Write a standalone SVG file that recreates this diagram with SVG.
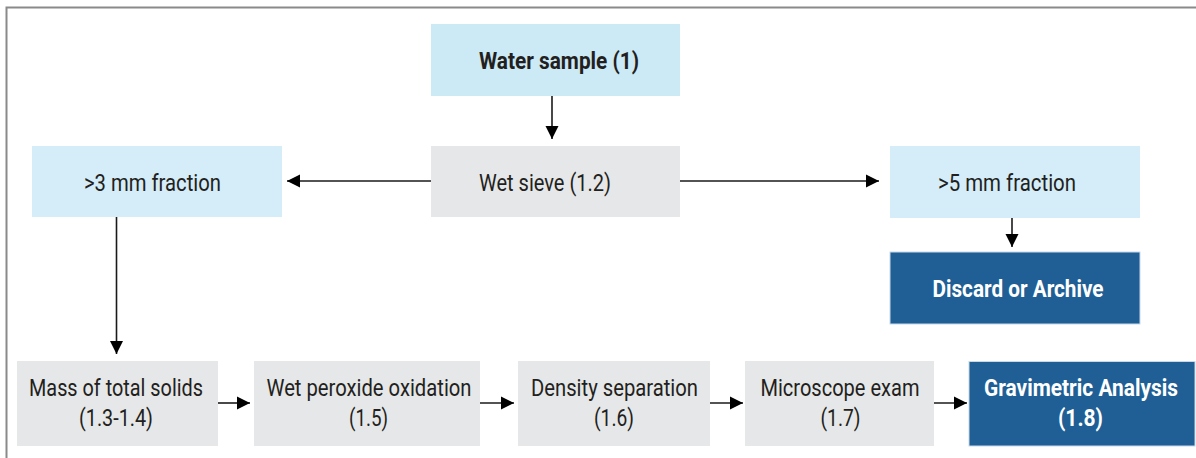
<svg xmlns="http://www.w3.org/2000/svg" width="1196" height="458" viewBox="0 0 1196 458">
<style>
.lb{fill:#d4edf8}
.lb2{fill:#cce9f6}
.gr{fill:#e6e7e8}
.db{fill:#1f5f95;stroke:#c9d9e8;stroke-width:1}
text{font-family:Roboto,"Liberation Sans",sans-serif;font-size:23px;fill:#231f20;text-anchor:middle}
.b{font-weight:bold}
.w{fill:#ffffff;font-weight:bold}
.c{stroke:#1a1a1a;stroke-width:1.6;fill:none;marker-end:url(#ah)}
</style>
<defs>
<marker id="ah" markerUnits="userSpaceOnUse" markerWidth="14" markerHeight="14" viewBox="0 0 14 14" refX="13" refY="7" orient="auto">
<path d="M0,0.5 L13,7 L0,13.5 Z" fill="#000"/>
</marker>
</defs>
<rect x="0" y="0" width="1196" height="458" fill="#fff"/>
<path d="M6.5,458 V7.5 H1196" stroke="#8a8a8a" stroke-width="2" fill="none"/>
<g id="connectors">
<line class="c" x1="552" y1="96" x2="552" y2="139"/>
<line class="c" x1="431" y1="181" x2="287" y2="181"/>
<line class="c" x1="680" y1="181" x2="879" y2="181"/>
<line class="c" x1="1012" y1="218" x2="1012" y2="247"/>
<line class="c" x1="116.5" y1="217" x2="116.5" y2="354"/>
<line class="c" x1="218" y1="403" x2="250" y2="403"/>
<line class="c" x1="480" y1="403" x2="514" y2="403"/>
<line class="c" x1="710" y1="403" x2="743" y2="403"/>
<line class="c" x1="934" y1="403" x2="967" y2="403"/>
</g>
<g id="water">
<rect class="lb2" x="431" y="24" width="249" height="72"/>
<text class="b" x="559" y="69" textLength="160" lengthAdjust="spacingAndGlyphs" font-size="24">Water sample (1)</text>
</g>
<g id="sieve">
<rect class="gr" x="431" y="146" width="249" height="71"/>
<text x="545" y="191" textLength="132" lengthAdjust="spacingAndGlyphs" font-size="24">Wet sieve (1.2)</text>
</g>
<g id="f3">
<rect class="lb" x="32" y="146" width="250" height="71"/>
<text x="152.5" y="191" textLength="137" lengthAdjust="spacingAndGlyphs" font-size="24">&gt;3 mm fraction</text>
</g>
<g id="f5">
<rect class="lb" x="890" y="146" width="250" height="72"/>
<text x="1007" y="191" textLength="138" lengthAdjust="spacingAndGlyphs" font-size="24">&gt;5 mm fraction</text>
</g>
<g id="discard">
<rect class="db" x="890" y="252" width="250" height="72"/>
<text class="w" x="1018" y="297" textLength="171" lengthAdjust="spacingAndGlyphs" font-size="24">Discard or Archive</text>
</g>
<g id="mass">
<rect class="gr" x="17" y="361" width="201" height="85"/>
<text x="116" y="395.5" textLength="174" lengthAdjust="spacingAndGlyphs">Mass of total solids</text>
<text x="116" y="426" textLength="74" lengthAdjust="spacingAndGlyphs">(1.3-1.4)</text>
</g>
<g id="peroxide">
<rect class="gr" x="254" y="361" width="226" height="85"/>
<text x="369" y="395.5" textLength="205" lengthAdjust="spacingAndGlyphs">Wet peroxide oxidation</text>
<text x="368.5" y="426" textLength="39" lengthAdjust="spacingAndGlyphs">(1.5)</text>
</g>
<g id="density">
<rect class="gr" x="518" y="361" width="192" height="85"/>
<text x="614.5" y="395.5" textLength="167" lengthAdjust="spacingAndGlyphs">Density separation</text>
<text x="614" y="426" textLength="40" lengthAdjust="spacingAndGlyphs">(1.6)</text>
</g>
<g id="microscope">
<rect class="gr" x="745" y="361" width="189" height="85"/>
<text x="840" y="395.5" textLength="159" lengthAdjust="spacingAndGlyphs">Microscope exam</text>
<text x="840.5" y="426" textLength="40" lengthAdjust="spacingAndGlyphs">(1.7)</text>
</g>
<g id="gravimetric">
<rect class="db" x="969" y="361.5" width="226" height="84.5"/>
<text class="w" x="1081" y="395.5" textLength="194" lengthAdjust="spacingAndGlyphs">Gravimetric Analysis</text>
<text class="w" x="1080.5" y="426" textLength="45" lengthAdjust="spacingAndGlyphs">(1.8)</text>
</g>
</svg>
